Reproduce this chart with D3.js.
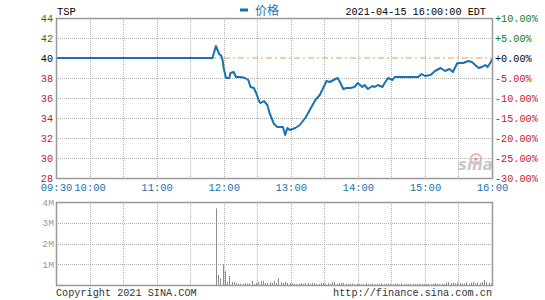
<!DOCTYPE html>
<html>
<head>
<meta charset="utf-8">
<script src="https://cdn.jsdelivr.net/npm/d3@7"></script>
<style>
  body { margin: 0; background: #fff; }
  text { font-family: "Liberation Mono", "DejaVu Sans Mono", monospace; font-size: 9.7px; }
</style>
</head>
<body>
<div id="chart"></div>
<script>
// chart values
var prevClose = 40;
var priceTimes = ["09:30","11:50","11:53","11:56","11:58","11:59","12:00","12:02","12:05","12:06","12:09","12:11","12:15","12:19","12:22","12:24","12:27","12:29","12:32","12:33","12:36","12:39","12:41","12:45","12:48","12:50","12:53","12:55","12:57","12:59","13:04","13:08","13:13","13:17","13:22","13:26","13:29","13:32","13:35","13:40","13:42","13:44","13:47","13:50","13:53","13:57","14:00","14:04","14:06","14:09","14:13","14:15","14:18","14:22","14:24","14:27","14:31","14:33","14:44","14:54","14:57","15:00","15:05","15:09","15:14","15:18","15:22","15:25","15:29","15:34","15:39","15:42","15:45","15:48","15:51","15:54","15:56","15:59","16:00"];
var prices = [40.0,40.0,41.2,40.4,40.2,39.8,39.0,38.0,38.0,38.5,38.6,38.1,38.1,38.0,37.8,37.1,37.0,36.5,35.6,35.5,35.7,35.3,34.5,33.4,33.1,33.1,33.1,32.3,33.0,32.8,33.0,33.3,34.0,34.8,35.8,36.3,37.0,37.7,37.6,37.9,38.0,37.6,36.9,37.0,37.0,37.1,37.5,37.1,37.3,36.9,37.2,37.1,37.3,37.1,37.5,38.0,37.8,38.1,38.1,38.1,38.4,38.2,38.3,38.7,39.0,38.7,38.9,38.6,39.5,39.5,39.7,39.6,39.3,39.0,39.1,39.3,39.1,39.6,39.9];

// volume in millions, one bar every 2 minutes from 11:53
var volStart = "11:53";
var volStep = 2;
var volumes = [3.69,0.48,0.32,1.0,0.67,0.14,0.43,0.15,0.15,0.10,0.06,0.06,0.05,0.08,0.05,0.08,0.19,0.05,0.10,0.15,
  0.20,0.20,0.10,0.10,0.14,0.10,0.20,0.10,0.33,0.13,0.10,0.15,0.10,0.10,0.07,0.05,0.05,0.05,0.08,0.05,
  0.10,0.10,0.06,0.10,0.10,0.05,0.05,0.10,0.10,0.06,0.10,0.05,0.14,0.14,0.06,0.10,0.10,0.10,0.05,0.04,
  0.06,0.08,0.04,0.05,0.06,0.04,0.05,0.08,0.04,0.05,0.06,0.04,0.06,0.05,0.08,0.04,0.05,0.06,0.05,0.04,
  0.06,0.05,0.04,0.08,0.05,0.06,0.04,0.05,0.06,0.04,0.05,0.06,0.05,0.04,0.05,0.06,0.04,0.05,0.08,0.05,
  0.04,0.06,0.05,0.12,0.14,0.10,0.12,0.08,0.12,0.10,0.06,0.08,0.14,0.06,0.12,0.15,0.08,0.12,0.10,0.14,
  0.24,0.15,0.10,0.08];

var priceTicks = [44, 42, 40, 38, 36, 34, 32, 30, 28];
var volTicks = [4, 3, 2, 1];
var timeLabels = ["09:30", "10:00", "11:00", "12:00", "13:00", "14:00", "15:00", "16:00"];
var gridTimes = ["10:00","10:30","11:00","11:30","12:00","12:30","13:00","13:30","14:00","14:30","15:00","15:30"];

var W = 545, H = 300;
var left = 56, right = 492;
var pTop = 18, pBot = 178, vTop = 202, vBot = 285;

var parseT = d3.timeParse("%H:%M");
var fmtT = d3.timeFormat("%H:%M");

var x = d3.scaleTime().domain([parseT("09:30"), parseT("16:00")]).range([left, right]);
var y = d3.scaleLinear().domain([28, 44]).range([pBot, pTop]);
var yv = d3.scaleLinear().domain([0, 4]).range([vBot, vTop]);

var green = "#137a13", red = "#c41a1a", blue = "#1a73b0", gray = "#999";

function tickColor(v) {
  if (v > prevClose) return green;
  if (v < prevClose) return red;
  return "#000";
}

var svg = d3.select("#chart").append("svg").attr("width", W).attr("height", H);

// grid - price panel
var grid = svg.append("g").attr("stroke", "#b0b0b0").attr("stroke-dasharray", "1,1").attr("stroke-width", 1);
grid.selectAll(".gx").data(gridTimes).enter().append("line")
  .attr("x1", d => Math.round(x(parseT(d))) + 0.5).attr("x2", d => Math.round(x(parseT(d))) + 0.5)
  .attr("y1", pTop).attr("y2", pBot);
grid.selectAll(".gy").data(priceTicks.filter(d => d != 44 && d != 28 && d != 40)).enter().append("line")
  .attr("x1", left).attr("x2", right)
  .attr("y1", d => Math.round(y(d)) + 0.5).attr("y2", d => Math.round(y(d)) + 0.5);

// grid - volume panel
grid.selectAll(".vx").data(gridTimes).enter().append("line")
  .attr("x1", d => Math.round(x(parseT(d))) + 0.5).attr("x2", d => Math.round(x(parseT(d))) + 0.5)
  .attr("y1", vTop).attr("y2", vBot);
grid.selectAll(".vy").data(volTicks.filter(d => d != 4)).enter().append("line")
  .attr("x1", left).attr("x2", right)
  .attr("y1", d => Math.round(yv(d)) + 0.5).attr("y2", d => Math.round(yv(d)) + 0.5);

// sina watermark
var wm = svg.append("g").attr("transform", "translate(458,170)");
wm.append("circle").attr("cx", 18).attr("cy", -11).attr("r", 5).attr("fill", "none").attr("stroke", "#f2b0b0").attr("stroke-width", 2);
wm.append("circle").attr("cx", 18).attr("cy", -11).attr("r", 1.6).attr("fill", "#e88");
wm.append("text").attr("x", 0).attr("y", 0)
  .style("font-family", "DejaVu Sans").style("font-size", "15px").style("font-style", "italic").style("font-weight", "bold")
  .attr("fill", "#c8c8c8").text("sina");

// previous close reference line
svg.append("line")
  .attr("x1", left).attr("x2", right)
  .attr("y1", y(prevClose)).attr("y2", y(prevClose))
  .attr("stroke", "#e0a050").attr("stroke-width", 1).attr("stroke-dasharray", "6,3,2,3");

// price line
var pts = priceTimes.map((t, i) => ({ t: parseT(t), p: prices[i] }));
svg.append("path").datum(pts)
  .attr("fill", "none").attr("stroke", blue).attr("stroke-width", 2).attr("stroke-linejoin", "round")
  .attr("d", d3.line().x(d => x(d.t)).y(d => y(d.p)));

// volume bars
var t0 = parseT(volStart);
var bars = volumes.map((v, i) => ({ t: d3.timeMinute.offset(t0, i * volStep), v: v }));
svg.selectAll(".vol").data(bars).enter().append("rect")
  .attr("x", d => Math.round(x(d.t)))
  .attr("width", 1)
  .attr("y", d => yv(d.v))
  .attr("height", d => vBot - yv(d.v))
  .attr("fill", "#8c8c8c");

// frames
svg.append("rect").attr("x", left + 0.5).attr("y", pTop + 0.5).attr("width", right - left).attr("height", pBot - pTop)
  .attr("fill", "none").attr("stroke", gray).attr("stroke-width", 1.5);
svg.append("rect").attr("x", left + 0.5).attr("y", vTop + 0.5).attr("width", right - left).attr("height", vBot - vTop)
  .attr("fill", "none").attr("stroke", gray).attr("stroke-width", 1.5);

// left price axis
var leftAxis = d3.axisLeft(y).tickValues(priceTicks).tickSize(0).tickPadding(3);
var la = svg.append("g").attr("transform", `translate(${left},0)`).call(leftAxis);
la.select(".domain").remove();
la.selectAll("text").attr("fill", d => tickColor(d)).style("font-size", "10.2px");

// right percent axis
var rightAxis = d3.axisRight(y).tickValues(priceTicks).tickSize(0).tickPadding(3)
  .tickFormat(d => {
    var pc = (d - prevClose) / prevClose * 100;
    return (pc >= 0 ? "+" : "") + pc.toFixed(2) + "%";
  });
var ra = svg.append("g").attr("transform", `translate(${right},0)`).call(rightAxis);
ra.select(".domain").remove();
ra.selectAll("text").attr("fill", d => tickColor(d)).style("font-size", "10.2px");

// time axis
var bottomAxis = d3.axisBottom(x).tickValues(timeLabels.map(parseT)).tickSize(0).tickPadding(6).tickFormat(fmtT);
var ba = svg.append("g").attr("transform", `translate(0,${pBot})`).call(bottomAxis);
ba.select(".domain").remove();
ba.selectAll("text").attr("fill", blue).style("font-size", "10.5px");

// volume axis
var volAxis = d3.axisLeft(yv).tickValues(volTicks).tickSize(0).tickPadding(2).tickFormat(d => d + "M");
var va = svg.append("g").attr("transform", `translate(${left},0)`).call(volAxis);
va.select(".domain").remove();
va.selectAll("text").attr("fill", "#999");

// title, legend, date
svg.append("text").attr("x", 57).attr("y", 15).attr("fill", "#000").style("font-size", "10.5px").text("TSP");
svg.append("line").attr("x1", 240).attr("x2", 248).attr("y1", 10).attr("y2", 10).attr("stroke", blue).attr("stroke-width", 3);
svg.append("text").attr("x", 255).attr("y", 15).attr("fill", blue)
  .style("font-family", "'Noto Sans CJK SC'").style("font-size", "12px").text("价格");
svg.append("text").attr("x", 486).attr("y", 15).attr("text-anchor", "end").attr("fill", "#000").style("font-size", "10.2px")
  .text("2021-04-15 16:00:00 EDT");

// footer
svg.append("text").attr("x", 56).attr("y", 296).attr("fill", "#333").style("font-size", "10.2px").text("Copyright 2021 SINA.COM");
svg.append("text").attr("x", 492).attr("y", 296).attr("text-anchor", "end").attr("fill", "#333").style("font-size", "10.2px")
  .text("http://finance.sina.com.cn");
</script>
</body>
</html>
